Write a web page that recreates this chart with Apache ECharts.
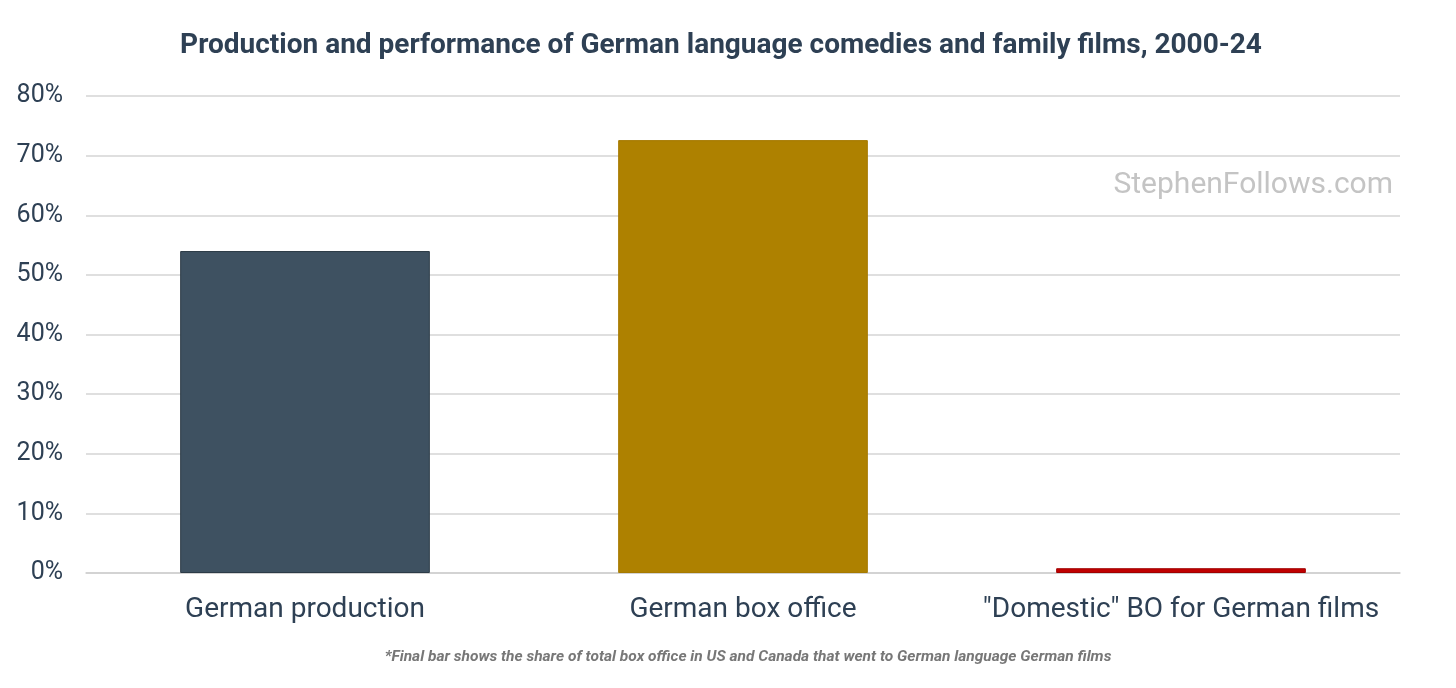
<!DOCTYPE html>
<html><head><meta charset="utf-8">
<script src="https://cdn.jsdelivr.net/npm/echarts@6/dist/echarts.min.js"></script>
<style>html,body{margin:0;padding:0;background:#fff}#c{width:1456px;height:688px}</style>
</head><body><div id="c"></div>
<script>
const categories = ['German production', 'German box office', '"Domestic" BO for German films'];
const values = [54.0, 72.6, 0.8];
const barColors = ['#3e5161', '#ae8100', '#c00000'];
const borderColors = ['#2c3b47', '#a67a00', '#a00000'];
const yTicks = [0, 10, 20, 30, 40, 50, 60, 70, 80];

const chart = echarts.init(document.getElementById('c'));
chart.setOption({
  backgroundColor: '#fff',
  animation: false,
  title: [{
    text: 'Production and performance of German language comedies and family films, 2000-24',
    left: 716, top: 27, textAlign: 'center',
    textStyle: { fontFamily: 'Roboto', fontWeight: 'bold', fontSize: 28, color: '#2e4054' }
  }, {
    text: '*Final bar shows the share of total box office in US and Canada that went to German language German films',
    left: 743, top: 644, textAlign: 'center',
    textStyle: { fontFamily: 'Roboto', fontWeight: 'bold', fontStyle: 'italic', fontSize: 15.5, color: '#777' }
  }],
  graphic: [{
    type: 'text', right: 63, top: 170,
    style: { text: 'StephenFollows.com', font: '30px Roboto', fill: '#c4c4c4' }
  }],
  grid: { left: 86, right: 56, top: 96, bottom: 115 },
  xAxis: {
    type: 'category', data: categories,
    axisLine: { lineStyle: { color: '#d0d0d0', width: 1.5 } },
    axisTick: { show: false },
    axisLabel: { interval: 0, fontFamily: 'Roboto', fontSize: 28, color: '#2e4054', margin: 23 }
  },
  yAxis: {
    type: 'value', min: 0, max: 80, interval: 10,
    axisLine: { show: false }, axisTick: { show: false },
    splitLine: { lineStyle: { color: '#d4d4d4', width: 1.5 } },
    axisLabel: { fontFamily: 'Roboto', fontSize: 25, color: '#2e4054', margin: 23,
      formatter: v => yTicks.includes(v) ? v + '%' : '' }
  },
  series: [{
    type: 'bar', barWidth: '57%',
    data: values.map((v, i) => ({ value: v, itemStyle: { color: barColors[i], borderColor: borderColors[i], borderWidth: 1 } }))
  }]
});
</script></body></html>
